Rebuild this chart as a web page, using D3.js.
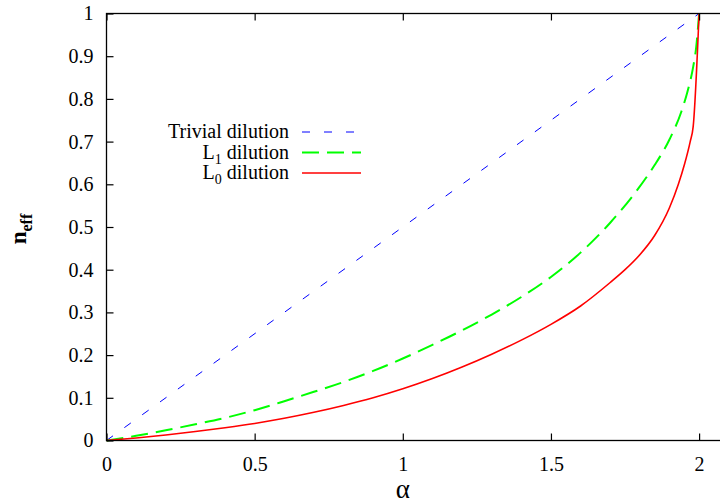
<!DOCTYPE html>
<html>
<head>
<meta charset="utf-8">
<script src="https://cdn.jsdelivr.net/npm/d3@7"></script>
<style>
  body { margin: 0; background: #fff; }
  svg { display: block; }
</style>
</head>
<body>
<svg width="720" height="504"></svg>
<script>
// values
var alphaTrivial = [0, 2];
var nTrivial = [0, 1];

var alphaL1 = [0, 0.1, 0.2, 0.3, 0.4, 0.5, 0.6, 0.7, 0.8, 0.9, 1.0, 1.1, 1.2, 1.3, 1.4, 1.5,
               1.6, 1.7, 1.8, 1.85, 1.9, 1.94, 1.96, 1.98, 1.99, 2.0];
var nL1 = [0, 0.011, 0.024, 0.038, 0.053, 0.071, 0.092, 0.114, 0.137, 0.163, 0.192, 0.224, 0.258,
           0.295, 0.336, 0.383, 0.44, 0.51, 0.595, 0.645, 0.705, 0.77, 0.815, 0.875, 0.92, 1.0];

var alphaL0 = [0, 0.1, 0.2, 0.3, 0.4, 0.5, 0.6, 0.7, 0.8, 0.9, 1.0, 1.1, 1.2, 1.3, 1.4, 1.5,
               1.6, 1.7, 1.75, 1.8, 1.85, 1.9, 1.93, 1.95, 1.97, 1.98, 2.0];
var nL0 = [0, 0.006, 0.013, 0.021, 0.03, 0.04, 0.052, 0.066, 0.082, 0.1, 0.121, 0.145, 0.172,
           0.202, 0.235, 0.272, 0.315, 0.37, 0.4, 0.435, 0.48, 0.545, 0.6, 0.645, 0.7, 0.735, 1.0];

var xTicks = [0, 0.5, 1, 1.5, 2];
var yTicks = [0, 0.1, 0.2, 0.3, 0.4, 0.5, 0.6, 0.7, 0.8, 0.9, 1];

var series = [
  {name: "Trivial", sub: null, xs: alphaTrivial, ys: nTrivial, color: "#0000ff", width: 1, dash: "8,14"},
  {name: "L", sub: "1", xs: alphaL1, ys: nL1, color: "#00ff00", width: 2, dash: "17,8"},
  {name: "L", sub: "0", xs: alphaL0, ys: nL0, color: "#ff0000", width: 1.6, dash: null}
];

var serif = "'Liberation Serif', 'Times New Roman', Times, 'DejaVu Serif', serif";

var svg = d3.select("svg"),
    pLeft = 106.5, pTop = 13.5, pBottom = 440.5;

var x = d3.scaleLinear().domain([0, 2.1]).range([pLeft, pLeft + 296.3 * 2.1]),
    y = d3.scaleLinear().domain([0, 1]).range([pBottom, pTop]);

svg.append("clipPath").attr("id", "clip")
  .append("rect").attr("x", pLeft).attr("y", pTop - 2).attr("width", 720).attr("height", pBottom - pTop + 4);

// curves
var line = d3.line()
    .curve(d3.curveMonotoneX)
    .x(function(d) { return x(d[0]); })
    .y(function(d) { return y(d[1]); });

svg.append("g").attr("clip-path", "url(#clip)")
  .selectAll("path").data(series).enter().append("path")
    .attr("d", function(s) { return line(d3.zip(s.xs, s.ys)); })
    .attr("fill", "none")
    .attr("stroke", function(s) { return s.color; })
    .attr("stroke-width", function(s) { return s.width; })
    .attr("stroke-dasharray", function(s) { return s.dash; });

// frame
svg.append("rect")
    .attr("x", pLeft).attr("y", pTop)
    .attr("width", x(2.1) - pLeft).attr("height", pBottom - pTop)
    .attr("fill", "none").attr("stroke", "#000").attr("stroke-width", 1.3);

// axes with inward ticks, mirrored
svg.append("g").attr("transform", "translate(0," + pBottom + ")")
  .call(d3.axisBottom(x).tickValues(xTicks).tickSizeInner(-7).tickSizeOuter(0).tickPadding(16).tickFormat(d3.format("~g")));
svg.append("g").attr("transform", "translate(0," + pTop + ")")
  .call(d3.axisTop(x).tickValues(xTicks).tickSizeInner(-7).tickSizeOuter(0).tickFormat(""));
svg.append("g").attr("transform", "translate(" + pLeft + ",0)")
  .call(d3.axisLeft(y).tickValues(yTicks).tickSizeInner(-7).tickSizeOuter(0).tickPadding(13).tickFormat(d3.format("~g")));

svg.selectAll(".domain").remove();
svg.selectAll(".tick line").attr("stroke", "#000").attr("stroke-width", 1.2);
svg.selectAll(".tick text").style("font-family", serif).style("font-size", "20px").attr("fill", "#000");

// axis titles
svg.append("text")
    .attr("x", x(1)).attr("y", 498)
    .attr("text-anchor", "middle")
    .style("font-family", serif)
    .style("font-size", "27px")
    .text("α");

var yl = svg.append("text")
    .attr("transform", "translate(26,229) rotate(-90)")
    .attr("text-anchor", "middle")
    .style("font-family", serif)
    .style("font-size", "23px")
    .attr("font-weight", "bold");
yl.append("tspan").text("n");
yl.append("tspan").style("font-size", "16px").attr("dy", 6).text("eff");

// legend
var legend = svg.append("g").selectAll("g").data(series).enter().append("g")
    .attr("transform", function(s, i) { return "translate(0," + (132 + i * 20.5) + ")"; });

legend.append("line")
    .attr("x1", 302).attr("x2", 361)
    .attr("stroke", function(s) { return s.color; })
    .attr("stroke-width", function(s) { return s.width; })
    .attr("stroke-dasharray", function(s) { return s.dash; });

var lt = legend.append("text")
    .attr("x", 289).attr("y", 6)
    .attr("text-anchor", "end")
    .style("font-family", serif)
    .style("font-size", "20px");
lt.append("tspan").text(function(s) { return s.name; });
lt.filter(function(s) { return s.sub; }).append("tspan")
    .style("font-size", "14px").attr("dy", 5).text(function(s) { return s.sub; });
lt.append("tspan")
    .attr("dy", function(s) { return s.sub ? -5 : 0; })
    .text(" dilution");
</script>
</body>
</html>
